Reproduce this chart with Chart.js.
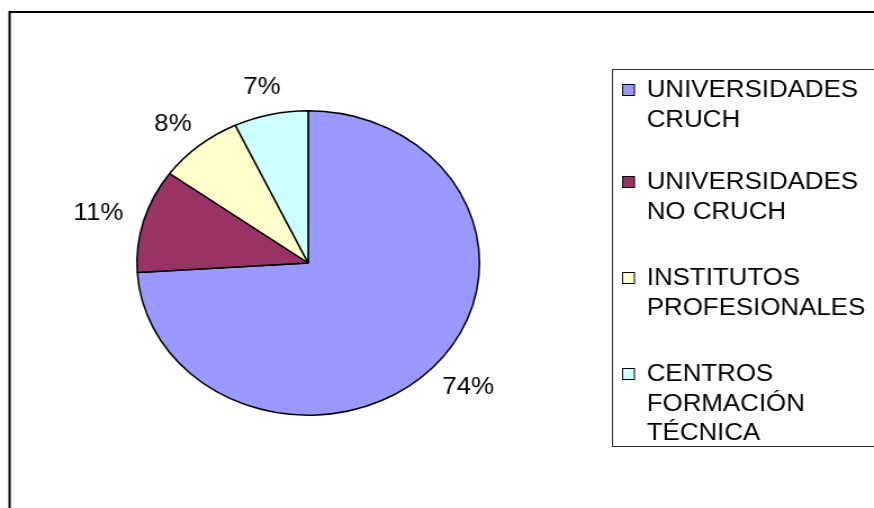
<!DOCTYPE html>
<html>
<head>
<meta charset="utf-8">
<script src="https://cdn.jsdelivr.net/npm/chart.js@4/dist/chart.umd.min.js"></script>
<style>
  html, body { margin: 0; padding: 0; background: #fff; overflow: hidden; }
  #wrap { width: 874px; height: 508px; position: relative; }
  /* the original picture is stretched sideways, so is this one */
  #chart { transform: scaleX(1.1248); transform-origin: 0 0; display: block; }
</style>
</head>
<body>
<div id="wrap"><canvas id="chart" width="777" height="508"></canvas></div>
<script>
// Chart data
const legendLines = [
    ['UNIVERSIDADES', 'CRUCH'],
    ['UNIVERSIDADES', 'NO CRUCH'],
    ['INSTITUTOS', 'PROFESIONALES'],
    ['CENTROS', 'FORMACIÓN', 'TÉCNICA']
];
const categories = legendLines.map(l => l.join(' '));
const shares = [74, 11, 8, 7];
const colors = ['#9999FF', '#993366', '#FFFFCC', '#CCFFFF'];

const FONT = '"Liberation Sans", Arial, sans-serif';

// Outer frame (only top and left edges show in the picture)
const framePlugin = {
    id: 'frame',
    beforeDraw(chart) {
        const ctx = chart.ctx;
        ctx.save();
        ctx.strokeStyle = '#000';
        ctx.lineWidth = 2;
        ctx.beginPath();
        ctx.moveTo(8.5, 520);
        ctx.lineTo(8.5, 12);
        ctx.lineTo(800, 12);
        ctx.stroke();
        ctx.restore();
    }
};

// Percent labels outside each slice, box edge touching the anchor point
const pctLabels = {
    id: 'pctLabels',
    afterDatasetsDraw(chart) {
        const ctx = chart.ctx;
        const meta = chart.getDatasetMeta(0);
        ctx.save();
        ctx.fillStyle = '#000';
        ctx.font = '23px ' + FONT;
        ctx.textAlign = 'center';
        ctx.textBaseline = 'middle';
        meta.data.forEach((arc, i) => {
            const txt = shares[i] + '%';
            const w = ctx.measureText(txt).width;
            const h = 17;
            const mid = (arc.startAngle + arc.endAngle) / 2;
            const r = arc.outerRadius * 1.13;
            const x = arc.x + Math.cos(mid) * r + Math.cos(mid) * w / 2;
            const y = arc.y + Math.sin(mid) * r + Math.sin(mid) * h / 2;
            ctx.fillText(txt, x, y + 1);
        });
        ctx.restore();
    }
};

// Boxed legend with wrapped labels
const boxLegend = {
    id: 'boxLegend',
    afterDraw(chart) {
        const ctx = chart.ctx;
        const firstBaselines = [97, 189, 285, 381];
        const lineH = 29.5;
        ctx.save();
        ctx.strokeStyle = '#333';
        ctx.lineWidth = 1;
        ctx.strokeRect(544.5, 69.5, 240, 377);
        ctx.font = '23px ' + FONT;
        ctx.textBaseline = 'alphabetic';
        ctx.textAlign = 'left';
        legendLines.forEach((lines, i) => {
            const y = firstBaselines[i];
            ctx.fillStyle = colors[i];
            ctx.fillRect(553, y - 13, 11, 12);
            ctx.strokeStyle = '#000';
            ctx.strokeRect(553.5, y - 12.5, 10.5, 11);
            ctx.fillStyle = '#000';
            lines.forEach((t, k) => ctx.fillText(t, 575, y + k * lineH));
        });
        ctx.restore();
    }
};

new Chart(document.getElementById('chart'), {
    type: 'pie',
    data: {
        labels: categories,
        datasets: [{
            data: shares,
            backgroundColor: colors,
            borderColor: '#000',
            borderWidth: 1.5
        }]
    },
    options: {
        responsive: false,
        animation: false,
        layout: { padding: { left: 121, right: 350, top: 110, bottom: 92 } },
        plugins: {
            legend: { display: false },
            tooltip: { enabled: false }
        }
    },
    plugins: [framePlugin, pctLabels, boxLegend]
});
</script>
</body>
</html>
